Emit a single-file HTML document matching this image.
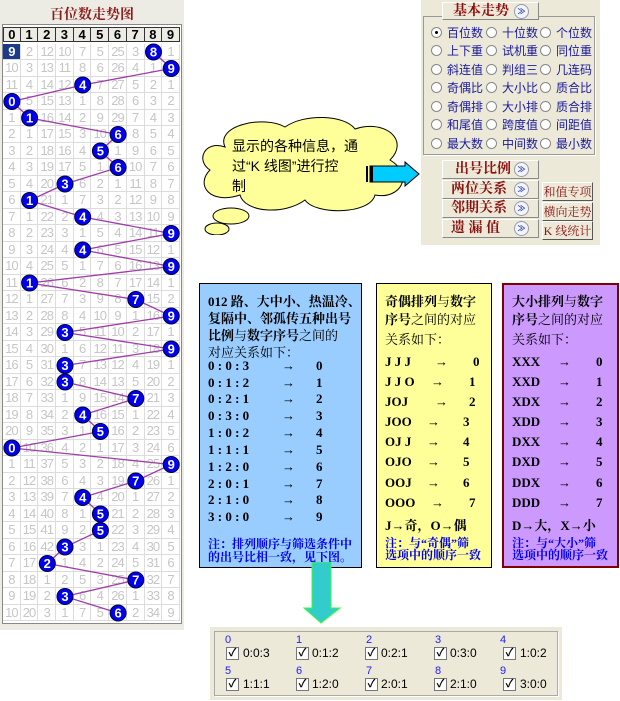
<!DOCTYPE html>
<html><head><meta charset="utf-8"><style>
*{margin:0;padding:0;box-sizing:border-box}
body{width:620px;height:701px;background:#fff;position:relative;overflow:hidden;font-family:"Liberation Sans","Noto Sans CJK SC",sans-serif}
.abs{position:absolute}
#grid{position:absolute;left:3px;top:43.75px;display:grid;grid-template-columns:repeat(10,17.7px);grid-template-rows:repeat(35,16.5px);}
#grid i{font-style:normal;font-size:13px;color:#c6c6c6;text-align:center;line-height:16.5px;border-right:1px solid #dcdcdc;border-bottom:1px solid #dcdcdc;letter-spacing:-1px;overflow:hidden}
#hdr{position:absolute;left:3px;top:27px;display:grid;grid-template-columns:repeat(10,17.7px);height:15px}
#hdr b{border:1px solid #333;border-left:none;background:#ecece4;font-size:13px;text-align:center;line-height:13px}
#hdr b:first-child{border-left:1px solid #333}
.rb{position:absolute;font-size:12px;color:#1a1a9a;font-family:"Liberation Sans","Noto Sans CJK SC",sans-serif}
.rad{position:absolute;width:11px;height:11px;border-radius:50%;border:1px solid #888;background:#fff}
.btn{position:absolute;background:#ece9d8;border:1px solid #fff;border-right-color:#888;border-bottom-color:#888;color:#8b1010;font-weight:bold;font-size:14px;font-family:"Liberation Serif","Noto Serif CJK SC",serif}
.ico{position:absolute;width:15px;height:15px;border-radius:50%;border:1px solid #99a;background:#f4f4ff;font-size:8px;color:#2040a0;text-align:center;line-height:13px;font-weight:bold}
.sb{position:absolute;left:542px;width:51px;height:19px;background:#ece9d8;border:1px solid #fff;border-right-color:#555;border-bottom-color:#555;color:#8b1010;font-size:12px;text-align:center;line-height:18px;font-family:"Liberation Serif","Noto Serif CJK SC",serif}
.box{position:absolute;font-family:"Liberation Serif","Noto Serif CJK SC",serif;font-size:13px;color:#000}
.box div{position:absolute;white-space:nowrap}
.bd{font-weight:bold}
.nt{color:#0000ee;font-weight:bold;font-size:12px}
.cb{position:absolute;width:13px;height:13px;border:1px solid #777;background:#fff;font-size:11px;line-height:11px;text-align:center;font-weight:bold}
.ct{position:absolute;font-size:12px;color:#000}
.cl{position:absolute;font-size:11px;color:#2020ff}
</style></head><body>

<div class="abs" style="left:0;top:0;width:184px;height:630px;background:#ecece4"></div>
<div class="abs" style="left:2px;top:24px;width:180px;height:600px;background:#fff;border:1px solid #888"></div>
<div class="abs" style="left:0;top:4px;width:184px;text-align:center;color:#8b1a1a;font-weight:bold;font-size:14px;font-family:'Liberation Serif','Noto Serif CJK SC',serif">百位数走势图</div>
<div id="hdr"><b>0</b><b>1</b><b>2</b><b>3</b><b>4</b><b>5</b><b>6</b><b>7</b><b>8</b><b>9</b></div>
<div id="grid">
<i style="background:#1c3a8c;color:#fff;font-weight:bold">9</i><i>2</i><i>12</i><i>10</i><i>7</i><i>5</i><i>25</i><i>3</i><i></i><i>1</i>
<i>10</i><i>3</i><i>13</i><i>11</i><i>8</i><i>6</i><i>26</i><i>4</i><i>1</i><i></i>
<i>11</i><i>4</i><i>14</i><i>12</i><i></i><i>7</i><i>27</i><i>5</i><i>2</i><i>1</i>
<i></i><i>5</i><i>15</i><i>13</i><i>1</i><i>8</i><i>28</i><i>6</i><i>3</i><i>2</i>
<i>1</i><i></i><i>16</i><i>14</i><i>2</i><i>9</i><i>29</i><i>7</i><i>4</i><i>3</i>
<i>2</i><i>1</i><i>17</i><i>15</i><i>3</i><i>10</i><i></i><i>8</i><i>5</i><i>4</i>
<i>3</i><i>2</i><i>18</i><i>16</i><i>4</i><i></i><i>1</i><i>9</i><i>6</i><i>5</i>
<i>4</i><i>3</i><i>19</i><i>17</i><i>5</i><i>1</i><i></i><i>10</i><i>7</i><i>6</i>
<i>5</i><i>4</i><i>20</i><i></i><i>6</i><i>2</i><i>1</i><i>11</i><i>8</i><i>7</i>
<i>6</i><i></i><i>21</i><i>1</i><i>7</i><i>3</i><i>2</i><i>12</i><i>9</i><i>8</i>
<i>7</i><i>1</i><i>22</i><i>2</i><i></i><i>4</i><i>3</i><i>13</i><i>10</i><i>9</i>
<i>8</i><i>2</i><i>23</i><i>3</i><i>1</i><i>5</i><i>4</i><i>14</i><i>11</i><i></i>
<i>9</i><i>3</i><i>24</i><i>4</i><i></i><i>6</i><i>5</i><i>15</i><i>12</i><i>1</i>
<i>10</i><i>4</i><i>25</i><i>5</i><i>1</i><i>7</i><i>6</i><i>16</i><i>13</i><i></i>
<i>11</i><i></i><i>26</i><i>6</i><i>2</i><i>8</i><i>7</i><i>17</i><i>14</i><i>1</i>
<i>12</i><i>1</i><i>27</i><i>7</i><i>3</i><i>9</i><i>8</i><i></i><i>15</i><i>2</i>
<i>13</i><i>2</i><i>28</i><i>8</i><i>4</i><i>10</i><i>9</i><i>1</i><i>16</i><i></i>
<i>14</i><i>3</i><i>29</i><i></i><i>5</i><i>11</i><i>10</i><i>2</i><i>17</i><i>1</i>
<i>15</i><i>4</i><i>30</i><i>1</i><i>6</i><i>12</i><i>11</i><i>3</i><i>18</i><i></i>
<i>16</i><i>5</i><i>31</i><i></i><i>7</i><i>13</i><i>12</i><i>4</i><i>19</i><i>1</i>
<i>17</i><i>6</i><i>32</i><i></i><i>8</i><i>14</i><i>13</i><i>5</i><i>20</i><i>2</i>
<i>18</i><i>7</i><i>33</i><i>1</i><i>9</i><i>15</i><i>14</i><i></i><i>21</i><i>3</i>
<i>19</i><i>8</i><i>34</i><i>2</i><i></i><i>16</i><i>15</i><i>1</i><i>22</i><i>4</i>
<i>20</i><i>9</i><i>35</i><i>3</i><i>1</i><i></i><i>16</i><i>2</i><i>23</i><i>5</i>
<i></i><i>10</i><i>36</i><i>4</i><i>2</i><i>1</i><i>17</i><i>3</i><i>24</i><i>6</i>
<i>1</i><i>11</i><i>37</i><i>5</i><i>3</i><i>2</i><i>18</i><i>4</i><i>25</i><i></i>
<i>2</i><i>12</i><i>38</i><i>6</i><i>4</i><i>3</i><i>19</i><i></i><i>26</i><i>1</i>
<i>3</i><i>13</i><i>39</i><i>7</i><i></i><i>4</i><i>20</i><i>1</i><i>27</i><i>2</i>
<i>4</i><i>14</i><i>40</i><i>8</i><i>1</i><i></i><i>21</i><i>2</i><i>28</i><i>3</i>
<i>5</i><i>15</i><i>41</i><i>9</i><i>2</i><i></i><i>22</i><i>3</i><i>29</i><i>4</i>
<i>6</i><i>16</i><i>42</i><i></i><i>3</i><i>1</i><i>23</i><i>4</i><i>30</i><i>5</i>
<i>7</i><i>17</i><i></i><i>1</i><i>4</i><i>2</i><i>24</i><i>5</i><i>31</i><i>6</i>
<i>8</i><i>18</i><i>1</i><i>2</i><i>5</i><i>3</i><i>25</i><i></i><i>32</i><i>7</i>
<i>9</i><i>19</i><i>2</i><i></i><i>6</i><i>4</i><i>26</i><i>1</i><i>33</i><i>8</i>
<i>10</i><i>20</i><i>3</i><i>1</i><i>7</i><i>5</i><i></i><i>2</i><i>34</i><i>9</i>
</div>
<svg class="abs" style="left:0;top:0" width="185" height="630">
<polyline fill="none" stroke="#a03ca8" stroke-width="1.3" points="153.5,52 171.2,68.5 82.7,85 11.9,101.5 29.6,118 118.1,134.5 100.4,151 118.1,167.5 65,184 29.6,200.5 82.7,217 171.2,233.5 82.7,250 171.2,266.5 29.6,283 135.8,299.5 171.2,316 65,332.5 171.2,349 65,365.5 65,382 135.8,398.5 82.7,415 100.4,431.5 11.9,448 171.2,464.5 135.8,481 82.7,497.5 100.4,514 100.4,530.5 65,547 47.3,563.5 135.8,580 65,596.5 118.1,613"/>
<g font-family="Liberation Sans,sans-serif" font-weight="bold" font-size="13" fill="#fff" text-anchor="middle">
<g stroke="#000033" stroke-width="1" fill="#0000ee">
<circle cx="153.5" cy="52" r="8"/><circle cx="171.2" cy="68.5" r="8"/><circle cx="82.7" cy="85" r="8"/><circle cx="11.9" cy="101.5" r="8"/><circle cx="29.6" cy="118" r="8"/><circle cx="118.1" cy="134.5" r="8"/><circle cx="100.4" cy="151" r="8"/><circle cx="118.1" cy="167.5" r="8"/><circle cx="65" cy="184" r="8"/><circle cx="29.6" cy="200.5" r="8"/><circle cx="82.7" cy="217" r="8"/><circle cx="171.2" cy="233.5" r="8"/><circle cx="82.7" cy="250" r="8"/><circle cx="171.2" cy="266.5" r="8"/><circle cx="29.6" cy="283" r="8"/><circle cx="135.8" cy="299.5" r="8"/><circle cx="171.2" cy="316" r="8"/><circle cx="65" cy="332.5" r="8"/><circle cx="171.2" cy="349" r="8"/><circle cx="65" cy="365.5" r="8"/><circle cx="65" cy="382" r="8"/><circle cx="135.8" cy="398.5" r="8"/><circle cx="82.7" cy="415" r="8"/><circle cx="100.4" cy="431.5" r="8"/><circle cx="11.9" cy="448" r="8"/><circle cx="171.2" cy="464.5" r="8"/><circle cx="135.8" cy="481" r="8"/><circle cx="82.7" cy="497.5" r="8"/><circle cx="100.4" cy="514" r="8"/><circle cx="100.4" cy="530.5" r="8"/><circle cx="65" cy="547" r="8"/><circle cx="47.3" cy="563.5" r="8"/><circle cx="135.8" cy="580" r="8"/><circle cx="65" cy="596.5" r="8"/><circle cx="118.1" cy="613" r="8"/>
</g>
<text x="153.5" y="56.5">8</text><text x="171.2" y="73">9</text><text x="82.7" y="89.5">4</text><text x="11.9" y="106">0</text><text x="29.6" y="122.5">1</text><text x="118.1" y="139">6</text><text x="100.4" y="155.5">5</text><text x="118.1" y="172">6</text><text x="65" y="188.5">3</text><text x="29.6" y="205">1</text><text x="82.7" y="221.5">4</text><text x="171.2" y="238">9</text><text x="82.7" y="254.5">4</text><text x="171.2" y="271">9</text><text x="29.6" y="287.5">1</text><text x="135.8" y="304">7</text><text x="171.2" y="320.5">9</text><text x="65" y="337">3</text><text x="171.2" y="353.5">9</text><text x="65" y="370">3</text><text x="65" y="386.5">3</text><text x="135.8" y="403">7</text><text x="82.7" y="419.5">4</text><text x="100.4" y="436">5</text><text x="11.9" y="452.5">0</text><text x="171.2" y="469">9</text><text x="135.8" y="485.5">7</text><text x="82.7" y="502">4</text><text x="100.4" y="518.5">5</text><text x="100.4" y="535">5</text><text x="65" y="551.5">3</text><text x="47.3" y="568">2</text><text x="135.8" y="584.5">7</text><text x="65" y="601">3</text><text x="118.1" y="617.5">6</text>
</g>
</svg>

<div class="abs" style="left:421px;top:0;width:179px;height:245px;background:#ece9d8"></div>
<div class="abs" style="left:423px;top:16px;width:172px;height:139px;border:1px solid #999;box-shadow:1px 1px 0 #fff"></div>
<div class="btn" style="left:442px;top:2px;width:97px;height:18px;padding-left:10px;line-height:17px">基本走势</div>
<div class="ico" style="left:514px;top:4px">≫</div>
<div class="btn" style="left:442px;top:160px;width:97px;height:19px;padding-left:12px;line-height:18px">出号比例</div><div class="ico" style="left:514px;top:162px">≫</div>
<div class="btn" style="left:442px;top:180px;width:97px;height:19px;padding-left:8px;line-height:18px">两位关系</div><div class="ico" style="left:514px;top:182px">≫</div>
<div class="btn" style="left:442px;top:199px;width:97px;height:19px;padding-left:8px;line-height:18px">邻期关系</div><div class="ico" style="left:514px;top:201px">≫</div>
<div class="btn" style="left:442px;top:219px;width:97px;height:19px;padding-left:8px;line-height:18px">遗 漏 值</div><div class="ico" style="left:514px;top:221px">≫</div>
<div class="sb" style="top:182px">和值专项</div>
<div class="sb" style="top:202px">横向走势</div>
<div class="sb" style="top:221px">K 线统计</div>

<div class="rad" style="left:431px;top:27px"></div><div class="abs" style="left:435px;top:31px;width:3px;height:3px;background:#000;border-radius:50%"></div>
<div class="rad" style="left:486px;top:27px"></div><div class="rad" style="left:540px;top:27px"></div>
<div class="rad" style="left:431px;top:45px"></div><div class="rad" style="left:486px;top:45px"></div><div class="rad" style="left:540px;top:45px"></div>
<div class="rad" style="left:431px;top:64px"></div><div class="rad" style="left:486px;top:64px"></div><div class="rad" style="left:540px;top:64px"></div>
<div class="rad" style="left:431px;top:82px"></div><div class="rad" style="left:486px;top:82px"></div><div class="rad" style="left:540px;top:82px"></div>
<div class="rad" style="left:431px;top:101px"></div><div class="rad" style="left:486px;top:101px"></div><div class="rad" style="left:540px;top:101px"></div>
<div class="rad" style="left:431px;top:119px"></div><div class="rad" style="left:486px;top:119px"></div><div class="rad" style="left:540px;top:119px"></div>
<div class="rad" style="left:431px;top:138px"></div><div class="rad" style="left:486px;top:138px"></div><div class="rad" style="left:540px;top:138px"></div>
<div class="rb" style="left:447px;top:24px">百位数</div><div class="rb" style="left:502px;top:24px">十位数</div><div class="rb" style="left:556px;top:24px">个位数</div>
<div class="rb" style="left:447px;top:42px">上下重</div><div class="rb" style="left:502px;top:42px">试机重</div><div class="rb" style="left:556px;top:42px">同位重</div>
<div class="rb" style="left:447px;top:61px">斜连值</div><div class="rb" style="left:502px;top:61px">判组三</div><div class="rb" style="left:556px;top:61px">几连码</div>
<div class="rb" style="left:447px;top:79px">奇偶比</div><div class="rb" style="left:502px;top:79px">大小比</div><div class="rb" style="left:556px;top:79px">质合比</div>
<div class="rb" style="left:447px;top:98px">奇偶排</div><div class="rb" style="left:502px;top:98px">大小排</div><div class="rb" style="left:556px;top:98px">质合排</div>
<div class="rb" style="left:447px;top:116px">和尾值</div><div class="rb" style="left:502px;top:116px">跨度值</div><div class="rb" style="left:556px;top:116px">间距值</div>
<div class="rb" style="left:447px;top:135px">最大数</div><div class="rb" style="left:502px;top:135px">中间数</div><div class="rb" style="left:556px;top:135px">最小数</div>

<svg class="abs" style="left:195px;top:115px" width="230" height="120">
<g fill="#ffff99" stroke="#000" stroke-width="1">
<ellipse cx="22" cy="114" rx="12" ry="6"/>
<ellipse cx="36" cy="101" rx="18" ry="8"/>
<path d="M30,32 C20,10 70,0 90,12 C110,-2 150,0 160,14 C190,4 215,25 195,45 C220,60 205,85 180,80 C175,100 120,100 110,85 C90,100 50,98 45,80 C15,90 0,70 15,55 C0,45 10,25 30,32 Z"/>
</g>
</svg>
<div class="abs" style="left:232px;top:136px;font-size:14px;line-height:20px;color:#000;font-family:'Liberation Sans','Noto Sans CJK SC',sans-serif">显示的各种信息，通<br>过“K 线图”进行控<br>制</div>
<svg class="abs" style="left:360px;top:160px" width="62" height="30">
<polygon points="10,6 45,6 45,2 59,14 45,26 45,22 10,22" fill="#00ccff" stroke="#000" stroke-width="1"/>
<rect x="6" y="6" width="2" height="16" fill="#000"/><rect x="10" y="6" width="3" height="16" fill="#000"/>
</svg>

<div class="box" style="left:199px;top:283px;width:163px;height:285px;background:#99ccff;border:1px solid #000">
<div class="bd" style="left:8px;top:7px">012 路、大中小、热温冷、</div>
<div class="bd" style="left:8px;top:24px">复隔中、邻孤传五种出号</div>
<div style="left:8px;top:41px"><b>比例</b>与<b>数字序号</b>之间的</div>
<div style="left:8px;top:58px">对应关系如下：</div>
<div class="bd" style="left:8px;top:74px">0 : 0 : 3</div><div class="bd" style="left:82px;top:74px">→</div><div class="bd" style="left:116px;top:74px">0</div>
<div class="bd" style="left:8px;top:91px">0 : 1 : 2</div><div class="bd" style="left:82px;top:91px">→</div><div class="bd" style="left:116px;top:91px">1</div>
<div class="bd" style="left:8px;top:107px">0 : 2 : 1</div><div class="bd" style="left:82px;top:107px">→</div><div class="bd" style="left:116px;top:107px">2</div>
<div class="bd" style="left:8px;top:124px">0 : 3 : 0</div><div class="bd" style="left:82px;top:124px">→</div><div class="bd" style="left:116px;top:124px">3</div>
<div class="bd" style="left:8px;top:141px">1 : 0 : 2</div><div class="bd" style="left:82px;top:141px">→</div><div class="bd" style="left:116px;top:141px">4</div>
<div class="bd" style="left:8px;top:158px">1 : 1 : 1</div><div class="bd" style="left:82px;top:158px">→</div><div class="bd" style="left:116px;top:158px">5</div>
<div class="bd" style="left:8px;top:175px">1 : 2 : 0</div><div class="bd" style="left:82px;top:175px">→</div><div class="bd" style="left:116px;top:175px">6</div>
<div class="bd" style="left:8px;top:192px">2 : 0 : 1</div><div class="bd" style="left:82px;top:192px">→</div><div class="bd" style="left:116px;top:192px">7</div>
<div class="bd" style="left:8px;top:208px">2 : 1 : 0</div><div class="bd" style="left:82px;top:208px">→</div><div class="bd" style="left:116px;top:208px">8</div>
<div class="bd" style="left:8px;top:225px">3 : 0 : 0</div><div class="bd" style="left:82px;top:225px">→</div><div class="bd" style="left:116px;top:225px">9</div>
<div class="nt" style="left:8px;top:251px">注：排列顺序与筛选条件中</div>
<div class="nt" style="left:8px;top:264px">的出号比相一致，见下图。</div>
</div>

<div class="box" style="left:376px;top:283px;width:116px;height:285px;background:#ffff99;border:1px solid #000">
<div style="left:8px;top:7px"><b>奇偶排列</b>与<b>数字</b></div>
<div style="left:8px;top:25px"><b>序号</b>之间的对应</div>
<div style="left:8px;top:45px">关系如下：</div>
<div class="bd" style="left:8px;top:70px">J J J</div><div class="bd" style="left:58px;top:70px">→</div><div class="bd" style="left:96px;top:70px">0</div>
<div class="bd" style="left:8px;top:90px">J J O</div><div class="bd" style="left:54px;top:90px">→</div><div class="bd" style="left:92px;top:90px">1</div>
<div class="bd" style="left:8px;top:110px">JOJ</div><div class="bd" style="left:58px;top:110px">→</div><div class="bd" style="left:92px;top:110px">2</div>
<div class="bd" style="left:8px;top:130px">JOO</div><div class="bd" style="left:50px;top:130px">→</div><div class="bd" style="left:86px;top:130px">3</div>
<div class="bd" style="left:8px;top:150px">OJ J</div><div class="bd" style="left:50px;top:150px">→</div><div class="bd" style="left:86px;top:150px">4</div>
<div class="bd" style="left:8px;top:170px">OJO</div><div class="bd" style="left:50px;top:170px">→</div><div class="bd" style="left:86px;top:170px">5</div>
<div class="bd" style="left:8px;top:191px">OOJ</div><div class="bd" style="left:50px;top:191px">→</div><div class="bd" style="left:86px;top:191px">6</div>
<div class="bd" style="left:8px;top:211px">OOO</div><div class="bd" style="left:54px;top:211px">→</div><div class="bd" style="left:92px;top:211px">7</div>
<div class="bd" style="left:8px;top:231px">J→奇，O→偶</div>
<div class="nt" style="left:8px;top:250px">注：与“奇偶”筛</div>
<div class="nt" style="left:8px;top:262px">选项中的顺序一致</div>
</div>

<div class="box" style="left:502px;top:283px;width:117px;height:285px;background:#cc99ff;border:2px solid #800000">
<div style="left:8px;top:6px"><b>大小排列</b>与<b>数字</b></div>
<div style="left:8px;top:24px"><b>序号</b>之间的对应</div>
<div style="left:8px;top:44px">关系如下：</div>
<div class="bd" style="left:8px;top:69px">XXX</div><div class="bd" style="left:54px;top:69px">→</div><div class="bd" style="left:92px;top:69px">0</div>
<div class="bd" style="left:8px;top:89px">XXD</div><div class="bd" style="left:54px;top:89px">→</div><div class="bd" style="left:92px;top:89px">1</div>
<div class="bd" style="left:8px;top:109px">XDX</div><div class="bd" style="left:54px;top:109px">→</div><div class="bd" style="left:92px;top:109px">2</div>
<div class="bd" style="left:8px;top:129px">XDD</div><div class="bd" style="left:54px;top:129px">→</div><div class="bd" style="left:92px;top:129px">3</div>
<div class="bd" style="left:8px;top:149px">DXX</div><div class="bd" style="left:54px;top:149px">→</div><div class="bd" style="left:92px;top:149px">4</div>
<div class="bd" style="left:8px;top:169px">DXD</div><div class="bd" style="left:54px;top:169px">→</div><div class="bd" style="left:92px;top:169px">5</div>
<div class="bd" style="left:8px;top:190px">DDX</div><div class="bd" style="left:54px;top:190px">→</div><div class="bd" style="left:92px;top:190px">6</div>
<div class="bd" style="left:8px;top:210px">DDD</div><div class="bd" style="left:54px;top:210px">→</div><div class="bd" style="left:92px;top:210px">7</div>
<div class="bd" style="left:8px;top:230px">D→大，X→小</div>
<div class="nt" style="left:8px;top:249px">注：与“大小”筛</div>
<div class="nt" style="left:8px;top:261px">选项中的顺序一致</div>
</div>

<svg class="abs" style="left:300px;top:562px" width="45" height="64">
<polygon points="12,0 31,0 31,46 40,46 21,61 4,46 12,46" fill="#33cccc" stroke="#33ff33" stroke-width="1"/>
</svg>

<div class="abs" style="left:210px;top:627px;width:352px;height:73px;background:#ece9d8"></div>
<div class="abs" style="left:214px;top:631px;width:344px;height:65px;border:1px solid #aaa;box-shadow:1px 1px 0 #fff"></div>
<div class="cl" style="left:225px;top:634px">0</div><div class="cl" style="left:296px;top:634px">1</div><div class="cl" style="left:366px;top:634px">2</div><div class="cl" style="left:435px;top:634px">3</div><div class="cl" style="left:500px;top:634px">4</div>
<div class="cl" style="left:225px;top:665px">5</div><div class="cl" style="left:296px;top:665px">6</div><div class="cl" style="left:366px;top:665px">7</div><div class="cl" style="left:435px;top:665px">8</div><div class="cl" style="left:500px;top:665px">9</div>
<div class="cb" style="left:226px;top:647px">✓</div><div class="ct" style="left:243px;top:646px">0:0:3</div>
<div class="cb" style="left:296px;top:647px">✓</div><div class="ct" style="left:312px;top:646px">0:1:2</div>
<div class="cb" style="left:365px;top:647px">✓</div><div class="ct" style="left:381px;top:646px">0:2:1</div>
<div class="cb" style="left:434px;top:647px">✓</div><div class="ct" style="left:450px;top:646px">0:3:0</div>
<div class="cb" style="left:503px;top:647px">✓</div><div class="ct" style="left:520px;top:646px">1:0:2</div>
<div class="cb" style="left:226px;top:678px">✓</div><div class="ct" style="left:243px;top:677px">1:1:1</div>
<div class="cb" style="left:296px;top:678px">✓</div><div class="ct" style="left:312px;top:677px">1:2:0</div>
<div class="cb" style="left:365px;top:678px">✓</div><div class="ct" style="left:381px;top:677px">2:0:1</div>
<div class="cb" style="left:434px;top:678px">✓</div><div class="ct" style="left:450px;top:677px">2:1:0</div>
<div class="cb" style="left:503px;top:678px">✓</div><div class="ct" style="left:520px;top:677px">3:0:0</div>
</body></html>
